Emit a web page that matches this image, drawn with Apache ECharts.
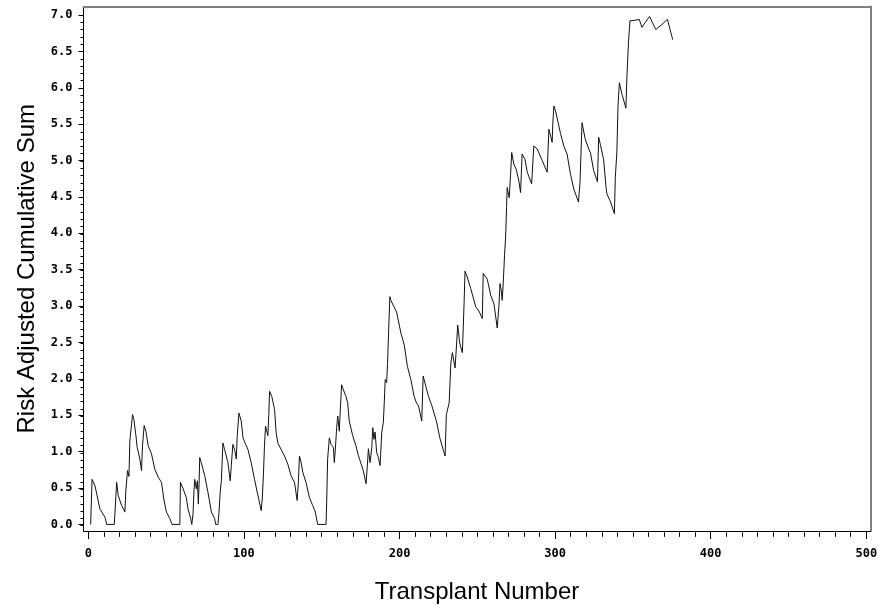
<!DOCTYPE html>
<html>
<head>
<meta charset="utf-8">
<title>Risk Adjusted Cumulative Sum</title>
<script src="https://cdn.jsdelivr.net/npm/echarts@6/dist/echarts.min.js"></script>
<style>
  html, body { margin: 0; padding: 0; background: #fff; }
  #chart { width: 888px; height: 609px; }
</style>
</head>
<body>
<div id="chart"></div>
<script>
// transplant number / cusum pairs
var transplantNo = [
  1.5, 2.4, 4.3, 7.5, 10.7, 11.8, 16.7, 18.2, 19.2, 21.4, 23.5, 24.1, 25.2, 26.1, 26.7, 28.4, 29.3, 30.6, 31.4, 33.1,
  34.2, 34.8, 35.9, 37.0, 38.5, 40.6, 42.7, 44.9, 47.0, 48.5, 50.2, 52.4, 53.8, 58.8, 59.2, 60.9, 63.0, 64.1, 65.8, 66.5,
  67.3, 67.9, 68.4, 69.4, 70.1, 70.7, 71.2, 71.6, 72.6, 74.8, 76.9, 79.1, 81.2, 81.8, 83.3, 84.0, 84.8, 85.5, 86.5, 87.6,
  89.7, 91.2, 91.9, 92.9, 94.0, 95.1, 95.7, 96.8, 98.3, 99.4, 101.1, 102.6, 104.7, 106.8, 109.0, 111.1, 111.8, 112.6, 113.2, 113.9,
  115.4, 116.0, 116.5, 117.9, 119.7, 120.7, 121.8, 123.9, 126.1, 128.2, 130.3, 132.5, 134.2, 135.0, 135.7, 136.8, 137.8, 140.0, 142.1, 144.2,
  145.9, 147.4, 152.8, 153.2, 153.8, 154.9, 156.0, 157.5, 158.1, 158.8, 159.6, 160.3, 161.3, 162.0, 162.8, 163.9, 165.6, 166.7, 167.7, 169.9,
  172.0, 173.5, 174.6, 176.7, 178.5, 179.4, 180.0, 181.1, 182.2, 182.8, 183.6, 184.3, 185.3, 186.4, 187.5, 188.6, 189.6, 190.2, 190.8, 191.7,
  192.3, 193.0, 193.8, 194.4, 198.1, 200.9, 203.0, 205.1, 207.3, 209.4, 210.9, 212.2, 214.3, 215.2, 216.9, 218.6, 220.8, 223.7, 225.9, 228.0,
  229.3, 230.1, 231.0, 231.9, 233.0, 234.0, 235.7, 236.6, 237.4, 238.7, 240.4, 241.5, 242.1, 243.5, 245.8, 249.0, 251.1, 253.2, 253.8, 256.4,
  258.6, 260.7, 262.8, 263.9, 264.6, 265.4, 266.0, 266.7, 267.5, 268.2, 268.8, 269.2, 269.9, 270.5, 271.4, 272.1, 273.5, 275.0, 276.7, 277.8,
  278.8, 280.6, 282.1, 284.9, 286.3, 288.5, 291.7, 294.9, 296.0, 297.0, 298.1, 298.5, 299.2, 300.3, 303.5, 305.6, 307.7, 309.9, 312.0, 315.0,
  316.0, 317.3, 319.3, 321.6, 322.7, 324.8, 327.2, 328.0, 329.1, 331.2, 332.7, 333.3, 335.5, 338.1, 338.7, 339.7, 340.4, 341.3, 343.0, 345.5,
  346.2, 347.2, 348.1, 352.0, 354.1, 355.8, 358.0, 360.7, 364.7, 368.6, 372.2, 375.6
];
var cusum = [
  0, 0.62, 0.53, 0.21, 0.10, 0, 0, 0.58, 0.40, 0.26, 0.17, 0.46, 0.74, 0.66, 1.15, 1.51, 1.44, 1.22, 1.06, 0.90,
  0.74, 1.08, 1.36, 1.28, 1.08, 0.97, 0.76, 0.65, 0.58, 0.35, 0.17, 0.08, 0, 0, 0.58, 0.49, 0.37, 0.21, 0.08, 0,
  0.15, 0.46, 0.62, 0.49, 0.60, 0.28, 0.57, 0.92, 0.85, 0.67, 0.44, 0.17, 0.08, 0, 0, 0.17, 0.46, 0.60, 1.12, 1.03,
  0.85, 0.60, 0.81, 1.10, 1.03, 0.90, 1.22, 1.53, 1.42, 1.19, 1.10, 1.03, 0.85, 0.62, 0.40, 0.19, 0.35, 0.72, 1.08, 1.35,
  1.22, 1.51, 1.83, 1.76, 1.58, 1.26, 1.12, 1.03, 0.94, 0.83, 0.67, 0.58, 0.33, 0.58, 0.94, 0.85, 0.72, 0.57, 0.37, 0.26,
  0.17, 0, 0, 0.31, 0.90, 1.19, 1.10, 1.06, 0.85, 1.05, 1.33, 1.49, 1.28, 1.60, 1.92, 1.85, 1.76, 1.67, 1.42, 1.22,
  1.08, 0.95, 0.88, 0.74, 0.56, 0.83, 1.04, 0.85, 1.06, 1.33, 1.17, 1.27, 0.99, 0.92, 0.81, 1.27, 1.40, 1.67, 1.99, 1.95,
  2.20, 2.65, 3.13, 3.08, 2.92, 2.63, 2.47, 2.17, 1.99, 1.76, 1.67, 1.63, 1.42, 2.04, 1.90, 1.76, 1.63, 1.42, 1.19, 1.03,
  0.94, 1.51, 1.49, 1.67, 2.22, 2.36, 2.15, 2.45, 2.74, 2.49, 2.36, 3.04, 3.48, 3.40, 3.24, 2.99, 2.93, 2.83, 3.45, 3.37,
  3.15, 3.03, 2.70, 3.01, 3.31, 3.22, 3.08, 3.33, 3.70, 3.95, 4.36, 4.63, 4.63, 4.49, 4.81, 5.11, 4.95, 4.88, 4.72, 4.56,
  5.09, 5.02, 4.84, 4.68, 5.20, 5.16, 5.00, 4.84, 5.43, 5.35, 5.25, 5.50, 5.75, 5.68, 5.37, 5.20, 5.09, 4.81, 4.61, 4.43,
  4.70, 5.52, 5.30, 5.16, 5.11, 4.86, 4.71, 5.32, 5.22, 5.01, 4.64, 4.54, 4.44, 4.27, 4.77, 5.12, 5.74, 6.07, 5.91, 5.72,
  6.18, 6.64, 6.92, 6.93, 6.94, 6.83, 6.90, 6.98, 6.80, 6.87, 6.94, 6.66
];

var xTickLabels = [0, 100, 200, 300, 400, 500];
var yTickLabels = [0, 0.5, 1, 1.5, 2, 2.5, 3, 3.5, 4, 4.5, 5, 5.5, 6, 6.5, 7];

var xMinorTicks = [];
for (var i = 0; i <= 50; i++) xMinorTicks.push(i * 10);
var yMinorTicks = [];
for (var j = 0; j <= 70; j++) yMinorTicks.push(j / 10);

var points = [];
for (var k = 0; k < transplantNo.length; k++) {
  points.push([transplantNo[k], cusum[k]]);
}

var xMin = -3.1, xMax = 502.7;
var yMin = -0.09, yMax = 7.117;
var tickFont = { fontFamily: 'DejaVu Sans Mono', fontWeight: 'bold', fontSize: 12, color: '#000' };
var titleFont = { fontFamily: 'Liberation Sans', fontSize: 24, color: '#000' };
var plotBox = { left: 83.5, right: 17.5, top: 6.5, bottom: 76.7 };

var chart = echarts.init(document.getElementById('chart'));
var option = {
  animation: false,
  backgroundColor: '#fff',
  // grid 1 sits on top of grid 0 and only carries the minor ticks
  grid: [
    { left: plotBox.left, right: plotBox.right, top: plotBox.top, bottom: plotBox.bottom },
    { left: plotBox.left, right: plotBox.right, top: plotBox.top, bottom: plotBox.bottom }
  ],
  xAxis: [
    {
      gridIndex: 0,
      type: 'value',
      position: 'bottom',
      min: xMin, max: xMax,
      axisLine: { onZero: false, lineStyle: { color: '#000', width: 1 } },
      axisTick: { customValues: xTickLabels, length: 8, lineStyle: { color: '#000' } },
      axisLabel: Object.assign({ customValues: xTickLabels, margin: 17 }, tickFont),
      splitLine: { show: false },
      name: 'Transplant Number',
      nameLocation: 'middle',
      nameGap: 49,
      nameTextStyle: titleFont
    },
    {
      gridIndex: 0,
      type: 'value',
      position: 'top',
      min: xMin, max: xMax,
      axisLine: { onZero: false, lineStyle: { color: '#808080', width: 2 } },
      axisTick: { show: false },
      axisLabel: { show: false },
      splitLine: { show: false }
    },
    {
      gridIndex: 1,
      type: 'value',
      position: 'bottom',
      min: xMin, max: xMax,
      axisLine: { show: false, onZero: false },
      axisTick: { customValues: xMinorTicks, length: 4.5, lineStyle: { color: '#000' } },
      axisLabel: { show: false },
      splitLine: { show: false }
    }
  ],
  yAxis: [
    {
      gridIndex: 0,
      type: 'value',
      position: 'left',
      min: yMin, max: yMax,
      axisLine: { onZero: false, lineStyle: { color: '#000', width: 1 } },
      axisTick: { customValues: yTickLabels, length: 5, lineStyle: { color: '#000' } },
      axisLabel: Object.assign({
        customValues: yTickLabels,
        margin: 11,
        formatter: function (v) { return v.toFixed(1); }
      }, tickFont),
      splitLine: { show: false },
      name: 'Risk Adjusted Cumulative Sum',
      nameLocation: 'middle',
      nameGap: 44,
      nameTextStyle: titleFont
    },
    {
      gridIndex: 0,
      type: 'value',
      position: 'right',
      min: yMin, max: yMax,
      axisLine: { onZero: false, lineStyle: { color: '#808080', width: 2 } },
      axisTick: { show: false },
      axisLabel: { show: false },
      splitLine: { show: false }
    },
    {
      gridIndex: 1,
      type: 'value',
      position: 'left',
      min: yMin, max: yMax,
      axisLine: { show: false, onZero: false },
      axisTick: { customValues: yMinorTicks, length: 3, lineStyle: { color: '#000' } },
      axisLabel: { show: false },
      splitLine: { show: false }
    }
  ],
  series: [
    {
      type: 'line',
      xAxisIndex: 0,
      yAxisIndex: 0,
      data: points,
      showSymbol: false,
      symbol: 'none',
      lineStyle: { color: '#111', width: 1 }
    }
  ]
};
chart.setOption(option);
</script>
</body>
</html>
